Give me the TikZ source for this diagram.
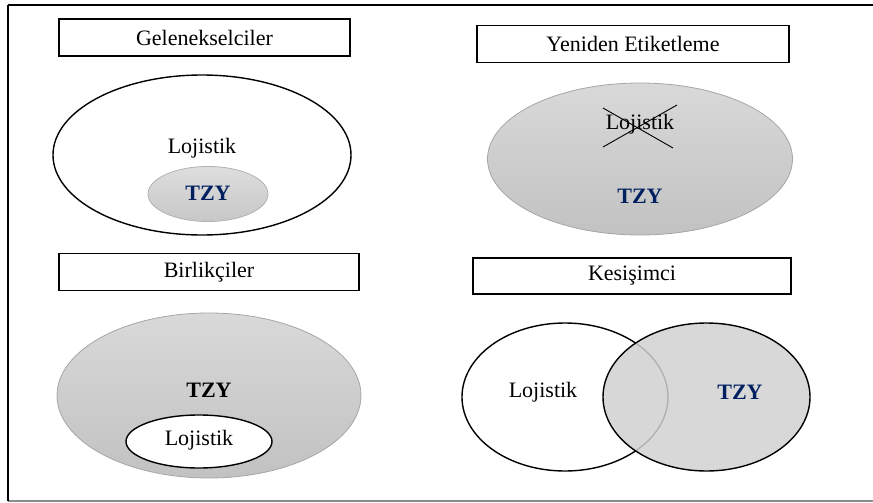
\documentclass[tikz,border=0pt]{standalone}
\usepackage{fontspec}
\setmainfont{Liberation Serif}
\usetikzlibrary{shapes.geometric}
\definecolor{tzyblue}{RGB}{0,32,96}
\definecolor{ellgray}{RGB}{205,205,205}
\tikzset{
  titlebox/.style={draw=black, line width=0.7pt, minimum width=#1, minimum height=18.5pt, inner sep=0pt, font=\fontsize{11}{13}\selectfont},
  txt/.style={inner sep=0pt, font=\fontsize{11}{13}\selectfont},
  tzy/.style={inner sep=0pt, font=\fontsize{11}{13}\selectfont\bfseries, text=tzyblue},
  ovalw/.style={ellipse, draw=black, line width=0.7pt, fill=white, inner sep=0pt},
  ovalg/.style={ellipse, draw=black!35, line width=0.4pt, top color=black!15, bottom color=black!24, inner sep=0pt},
}
\begin{document}
\begin{tikzpicture}[x=0.5pt,y=-0.5pt]
\useasboundingbox (0,0) rectangle (873,503);
% frame
\coordinate (ftl) at (8,5);
\coordinate (ftr) at (873,5);
\coordinate (fbl) at (8,501);
\coordinate (fbr) at (873,501);
\draw[black!45, line width=1pt] (fbl) -- (fbr);
\draw[black, line width=1pt] (ftl) -- (ftr);
\draw[black, line width=1.1pt] (ftl) -- (fbl);

% top-left: Gelenekselciler
\node[titlebox=145.5pt] (t1) at (204.5,37.5) {Gelenekselciler};
\node[ovalw, minimum width=149pt, minimum height=80pt] (e1) at (202,155) {};
\node[txt] (l1) at (202,148) {Lojistik};
\node[ellipse, draw=black!30, line width=0.4pt, top color=black!13, bottom color=black!22, inner sep=0pt, minimum width=60pt, minimum height=27.5pt] (s1) at (208,194) {};
\node[tzy] (z1) at (208,193) {TZY};

% top-right: Yeniden Etiketleme
\node[titlebox=156pt] (t2) at (633,44) {Yeniden Etiketleme};
\node[ovalg, minimum width=152.5pt, minimum height=76pt] (e2) at (640,159) {};
\node[txt] (l2) at (640,124) {Lojistik};
\coordinate (c1a) at (603,108);
\coordinate (c1b) at (673,148);
\coordinate (c2a) at (677,105);
\coordinate (c2b) at (603,147);
\draw[black, line width=0.45pt] (c1a) -- (c1b);
\draw[black, line width=0.45pt] (c2a) -- (c2b);
\node[tzy] (z2) at (640,196) {TZY};

% bottom-left: Birlikciler
\node[titlebox=150pt] (t3) at (209,272) {Birlikçiler};
\node[ovalg, minimum width=152pt, minimum height=82.5pt] (e3) at (209,395.5) {};
\node[tzy, text=black] (z3) at (209,390) {TZY};
\node[ovalw, minimum width=73pt, minimum height=26.5pt] (s3) at (199,441.5) {};
\node[txt] (l3) at (199,440) {Lojistik};

% bottom-right: Kesisimci
\node[titlebox=159pt, minimum height=18pt] (t4) at (632,276) {Kesişimci};
\node[ovalw, minimum width=103pt, minimum height=74pt] (e4) at (565,397) {};
\node[ellipse, draw=black, line width=0.7pt, fill=black!18, fill opacity=0.85, inner sep=0pt, minimum width=103.5pt, minimum height=74pt] (e5) at (706.5,397) {};
\node[txt] (l4) at (543,392) {Lojistik};
\node[tzy] (z4) at (740,392) {TZY};
\end{tikzpicture}
\end{document}
